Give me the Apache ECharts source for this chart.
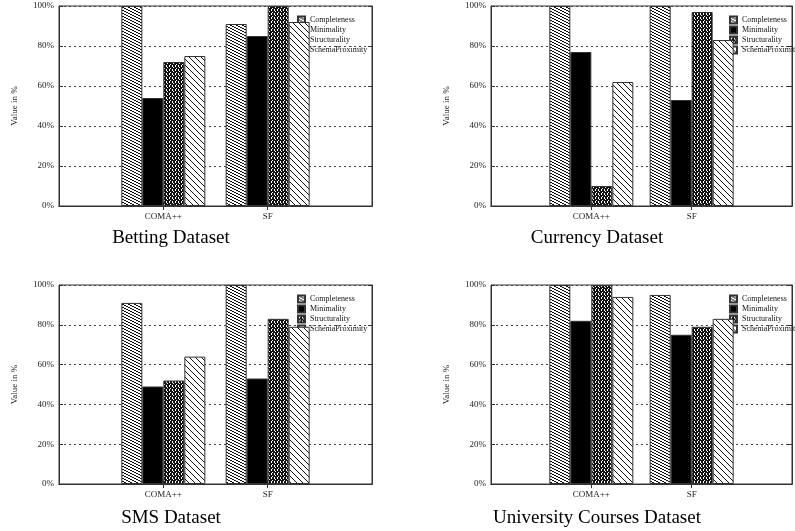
<!DOCTYPE html>
<html>
<head>
<meta charset="utf-8">
<script src="https://cdn.jsdelivr.net/npm/echarts@6/dist/echarts.min.js"></script>
<style>
  body { margin: 0; background: #fff; }
  #chart { width: 795px; height: 531px; }
</style>
</head>
<body>
<div id="chart"></div>
<script>
'use strict';

// categories on the x axis, padded with blanks so the axis runs from -1 to 2
var categories = ['COMA++', 'SF'];
var metrics = ['Completeness', 'Minimality', 'Structurality', 'SchemaProximity'];
var yTicks = [0, 20, 40, 60, 80, 100];

// values in %, one entry per metric
var bettingComa = [100, 54, 72, 75];
var bettingSf = [91, 85, 100, 92];
var currencyComa = [100, 77, 10, 62];
var currencySf = [100, 53, 97, 83];
var smsComa = [91, 49, 52, 64];
var smsSf = [100, 53, 83, 79];
var uniComa = [100, 82, 100, 94];
var uniSf = [95, 75, 79, 83];

var titles = ['Betting Dataset', 'Currency Dataset', 'SMS Dataset', 'University Courses Dataset'];

var panels = [
  { coma: bettingComa, sf: bettingSf, left: 59, top: 6, width: 313, height: 200, titleX: 171, titleY: 229 },
  { coma: currencyComa, sf: currencySf, left: 491, top: 6, width: 312, height: 200, titleX: 597, titleY: 229 },
  { coma: smsComa, sf: smsSf, left: 59, top: 285, width: 313, height: 199, titleX: 171, titleY: 509 },
  { coma: uniComa, sf: uniSf, left: 491, top: 285, width: 312, height: 199, titleX: 597, titleY: 509 }
];

var font = 'Liberation Serif';
var ink = '#333';

var makePattern = function(w, h, draw) {
  var c = document.createElement('canvas');
  c.width = w;
  c.height = h;
  var ctx = c.getContext('2d');
  ctx.fillStyle = '#fff';
  ctx.fillRect(0, 0, w, h);
  draw(ctx);
  return { image: c, repeat: 'repeat' };
};

// gnuplot-ish fill styles
var fills = [
  makePattern(6, 3, function(ctx) {
    ctx.fillStyle = '#111';
    for (var x = 0; x < 6; x++) {
      ctx.fillRect(x, Math.floor(x / 2), 1, 1);
    }
  }),
  '#000',
  makePattern(6, 4, function(ctx) {
    ctx.fillStyle = '#111';
    ctx.fillRect(0, 0, 6, 4);
    ctx.fillStyle = '#fff';
    ctx.fillRect(1, 1, 1, 2);
    ctx.fillRect(4, 1, 1, 2);
    ctx.fillRect(2, 0, 1, 1);
    ctx.fillRect(5, 3, 1, 1);
  }),
  makePattern(6, 6, function(ctx) {
    ctx.fillStyle = '#111';
    for (var x = 0; x < 6; x++) {
      ctx.fillRect(x, x, 1, 1);
    }
  })
];

var axisCats = [''].concat(categories).concat(['']);
var onCategory = function(i) { return i > 0 && i < axisCats.length - 1; };

var grids = [], xAxes = [], yAxes = [], series = [], legends = [], titleList = [];

panels.forEach(function(p, k) {
  grids.push({
    left: p.left, top: p.top, width: p.width, height: p.height,
    show: true, borderColor: ink, borderWidth: 1, backgroundColor: 'transparent'
  });

  titleList.push({
    text: titles[k],
    left: p.titleX, top: p.titleY, padding: 0, textAlign: 'center',
    textStyle: { fontFamily: font, fontSize: 19, fontWeight: 'normal', color: '#000' }
  });

  // bottom axis with labels, top axis only for the mirrored ticks
  xAxes.push({
    gridIndex: k, type: 'category', data: axisCats, boundaryGap: false, position: 'bottom',
    axisLine: { lineStyle: { color: ink } },
    axisTick: { inside: true, length: 4, interval: onCategory, lineStyle: { color: ink } },
    axisLabel: { interval: 0, margin: 6, fontFamily: font, fontSize: 9, color: '#222' },
    splitLine: { show: false }
  });
  xAxes.push({
    gridIndex: k, type: 'category', data: axisCats, boundaryGap: false, position: 'top',
    axisLine: { lineStyle: { color: ink } },
    axisTick: { inside: true, length: 4, interval: onCategory, lineStyle: { color: ink } },
    axisLabel: { show: false },
    splitLine: { show: false }
  });

  yAxes.push({
    gridIndex: k, type: 'value', min: yTicks[0], max: yTicks[yTicks.length - 1], interval: yTicks[1] - yTicks[0],
    position: 'left',
    name: 'Value in %', nameLocation: 'middle', nameGap: 40,
    nameTextStyle: { fontFamily: font, fontSize: 9, color: '#222' },
    axisLine: { show: true, lineStyle: { color: ink } },
    axisTick: { show: true, inside: true, length: 4, lineStyle: { color: ink } },
    axisLabel: { margin: 5, fontFamily: font, fontSize: 9, color: '#222', formatter: '{value}%' },
    splitLine: { show: true, lineStyle: { color: '#444', width: 1, type: [2, 3] } }
  });
  yAxes.push({
    gridIndex: k, type: 'value', min: yTicks[0], max: yTicks[yTicks.length - 1], interval: yTicks[1] - yTicks[0],
    position: 'right',
    axisLine: { show: true, lineStyle: { color: ink } },
    axisTick: { show: true, inside: true, length: 4, lineStyle: { color: ink } },
    axisLabel: { show: false },
    splitLine: { show: false }
  });

  metrics.forEach(function(m, j) {
    series.push({
      type: 'bar', name: m,
      xAxisIndex: 2 * k, yAxisIndex: 2 * k,
      data: ['-', p.coma[j], p.sf[j], '-'],
      barWidth: 21, barGap: '0%',
      itemStyle: { color: fills[j], borderColor: ink, borderWidth: 1 },
      zlevel: 1
    });
  });

  // legend sits under the bars, as in the original plots
  legends.push({
    orient: 'vertical', left: p.left + 238, top: p.top + 9, padding: 0,
    icon: 'rect', itemWidth: 7, itemHeight: 7, itemGap: 0, selectedMode: false, zlevel: 0, z: 1,
    textStyle: { fontFamily: font, fontSize: 8, lineHeight: 10, color: '#111' },
    data: metrics
  });
});

var chart = echarts.init(document.getElementById('chart'));
chart.setOption({
  animation: false,
  backgroundColor: '#fff',
  title: titleList,
  grid: grids,
  xAxis: xAxes,
  yAxis: yAxes,
  legend: legends,
  series: series
});
</script>
</body>
</html>
